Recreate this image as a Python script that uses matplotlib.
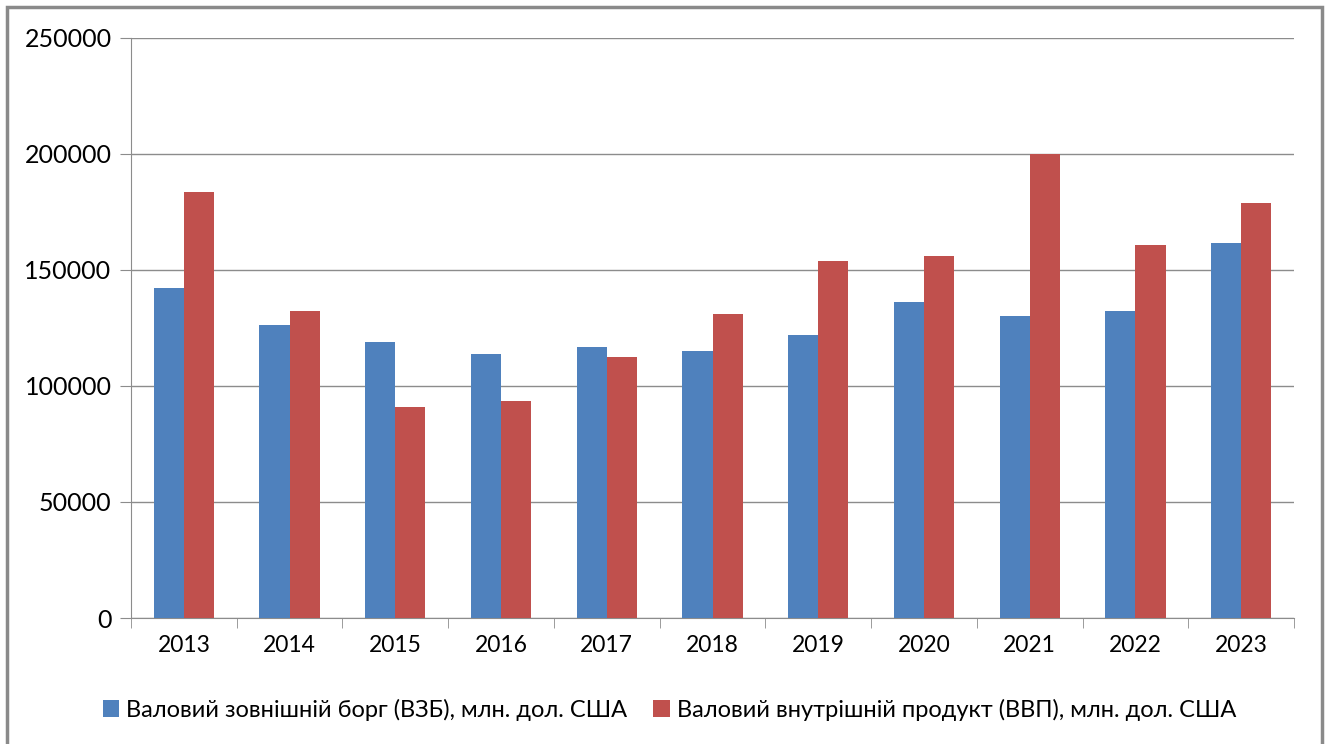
import numpy as np
import matplotlib.pyplot as plt
from matplotlib.patches import Rectangle

plt.rcParams['font.family'] = ['Lato', 'DejaVu Sans']

years = ['2013', '2014', '2015', '2016', '2017', '2018', '2019', '2020', '2021', '2022', '2023']
vzb = [142000, 126000, 118800, 113600, 116600, 114900, 121800, 136000, 130000, 132100, 161400]
vvp = [183500, 132000, 90800, 93400, 112300, 130800, 153600, 155800, 200000, 160800, 178800]
label_vzb = 'Валовий зовнішній борг (ВЗБ), млн. дол. США'
label_vvp = 'Валовий внутрішній продукт (ВВП), млн. дол. США'

fig = plt.figure(figsize=(13.28, 7.44), dpi=100)
ax = fig.add_axes([131 / 1328, 1 - 618 / 744, (1294 - 131) / 1328, (618 - 37.5) / 744])

x = np.arange(len(years))
w = 0.285
ax.bar(x - w / 2, vzb, w, color='#4f81bd', label=label_vzb, zorder=3)
ax.bar(x + w / 2, vvp, w, color='#c0504d', label=label_vvp, zorder=3)

ax.set_xlim(-0.5, len(years) - 0.5)
ax.set_ylim(0, 250000)
ax.set_yticks(np.arange(0, 250001, 50000))
ax.yaxis.grid(True, color='#8c8c8c', linewidth=1, zorder=0)
ax.set_xticks(x)
ax.set_xticklabels(years)
ax.set_xticks(np.arange(-0.5, len(years)), minor=True)
ax.tick_params(axis='x', which='major', length=0, labelsize=16.5, pad=12, colors='#000000')
ax.tick_params(axis='x', which='minor', length=7, color='#8c8c8c', direction='out')
ax.tick_params(axis='y', length=8, color='#8c8c8c', labelsize=18, pad=6)

for s in ['top', 'right']:
    ax.spines[s].set_visible(False)
for s in ['left', 'bottom']:
    ax.spines[s].set_color('#8c8c8c')

ax.legend(loc='center', bbox_to_anchor=(0.463, -0.158), ncol=2, frameon=False,
          fontsize=17, handlelength=0.7, handleheight=0.7, handletextpad=0.3,
          columnspacing=1.1)

fig.patches.append(Rectangle((7 / 1328, -0.05), (1322 - 7) / 1328, 1.05 - 7 / 744,
                             transform=fig.transFigure, fill=False,
                             edgecolor='#8a8a8a', linewidth=2.5))

fig.savefig('out.png', dpi=100)
